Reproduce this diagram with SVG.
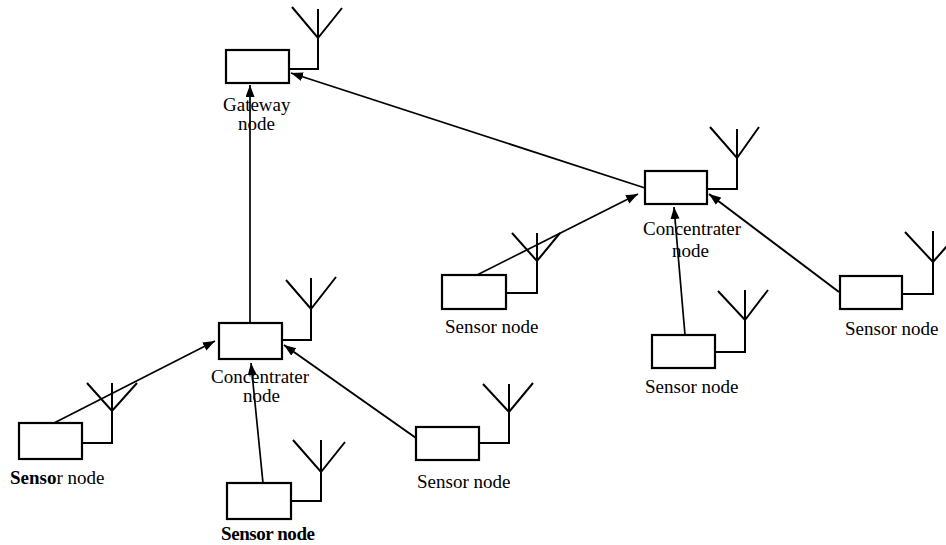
<svg xmlns="http://www.w3.org/2000/svg" width="946" height="545" viewBox="0 0 946 545">
<style>
.box{fill:#fff;stroke:#000;stroke-width:2.2}
.ant{fill:none;stroke:#000;stroke-width:2;stroke-linejoin:miter}
.lbl{font-family:"Liberation Serif","Times New Roman",serif;font-size:19px;fill:#000}
.b{font-weight:bold}
.con{fill:none;stroke:#000;stroke-width:1.7}
</style>
<defs>
<marker id="ah" markerUnits="userSpaceOnUse" markerWidth="13" markerHeight="10" refX="12" refY="4.5" orient="auto">
<path d="M0,0 L12,4.5 L0,9 z" fill="#000"/>
</marker>
</defs>
<rect width="946" height="545" fill="#fff"/>
<g id="connectors">
<line class="con" x1="250" y1="323" x2="250" y2="85" marker-end="url(#ah)"/>
<line class="con" x1="645" y1="188" x2="291" y2="73" marker-end="url(#ah)"/>
<line class="con" x1="54" y1="423" x2="215" y2="341" marker-end="url(#ah)"/>
<line class="con" x1="263" y1="483" x2="251" y2="363" marker-end="url(#ah)"/>
<line class="con" x1="416" y1="438" x2="284" y2="345" marker-end="url(#ah)" style="stroke-width:2"/>
<line class="con" x1="477" y1="275" x2="638" y2="194" marker-end="url(#ah)"/>
<line class="con" x1="685" y1="335" x2="674" y2="207" marker-end="url(#ah)"/>
<line class="con" x1="839" y1="292" x2="709" y2="194" marker-end="url(#ah)" style="stroke-width:2"/>
</g>
<g id="gateway">
<rect class="box" x="226" y="50" width="63" height="33"/>
<path class="ant" d="M289,69 H318 V9 M292,7 L318,38 L342,8"/>
<text class="lbl" x="223" y="111">Gateway</text>
<text class="lbl" x="238" y="130">node</text>
</g>
<g id="concentrator1">
<rect class="box" x="219" y="323" width="63" height="36"/>
<path class="ant" d="M282,340 H311 V278 M286,280 L311,309 L336,277"/>
<text class="lbl" x="211" y="383">Concentrater</text>
<text class="lbl" x="243" y="402">node</text>
</g>
<g id="concentrator2">
<rect class="box" x="645" y="171" width="62" height="33"/>
<path class="ant" d="M707,189 H737 V129 M710,127 L737,158 L759,127"/>
<text class="lbl" x="643" y="235">Concentrater</text>
<text class="lbl" x="672" y="257">node</text>
</g>
<g id="sensor-left">
<rect class="box" x="19" y="423" width="63" height="36"/>
<path class="ant" d="M82,443 H112 V383 M87,383 L112,411 L137,383"/>
<text class="lbl" x="10" y="484"><tspan class="b">Senso</tspan>r node</text>
</g>
<g id="sensor-bottom">
<rect class="box" x="227" y="483" width="64" height="36"/>
<path class="ant" d="M291,501 H321 V440 M293,440 L321,472 L345,442"/>
<text class="lbl b" x="221" y="540" font-size="18" textLength="94">Sensor node</text>
</g>
<g id="sensor-lower-right">
<rect class="box" x="416" y="427" width="63" height="33"/>
<path class="ant" d="M479,443 H509 V384 M483,384 L509,412 L533,383"/>
<text class="lbl" x="417" y="488">Sensor node</text>
</g>
<g id="sensor-mid">
<rect class="box" x="442" y="275" width="64" height="34"/>
<path class="ant" d="M506,293 H537 V233 M512,233 L537,261 L560,233"/>
<text class="lbl" x="445" y="333">Sensor node</text>
</g>
<g id="sensor-bottom-mid">
<rect class="box" x="652" y="335" width="63" height="33"/>
<path class="ant" d="M715,352 H745 V290 M718,291 L745,320 L768,290"/>
<text class="lbl" x="645" y="393">Sensor node</text>
</g>
<g id="sensor-right">
<rect class="box" x="840" y="276" width="62" height="33"/>
<path class="ant" d="M902,294 H933 V231 M905,232 L933,262 L961,230"/>
<text class="lbl" x="845" y="335">Sensor node</text>
</g>
</svg>
